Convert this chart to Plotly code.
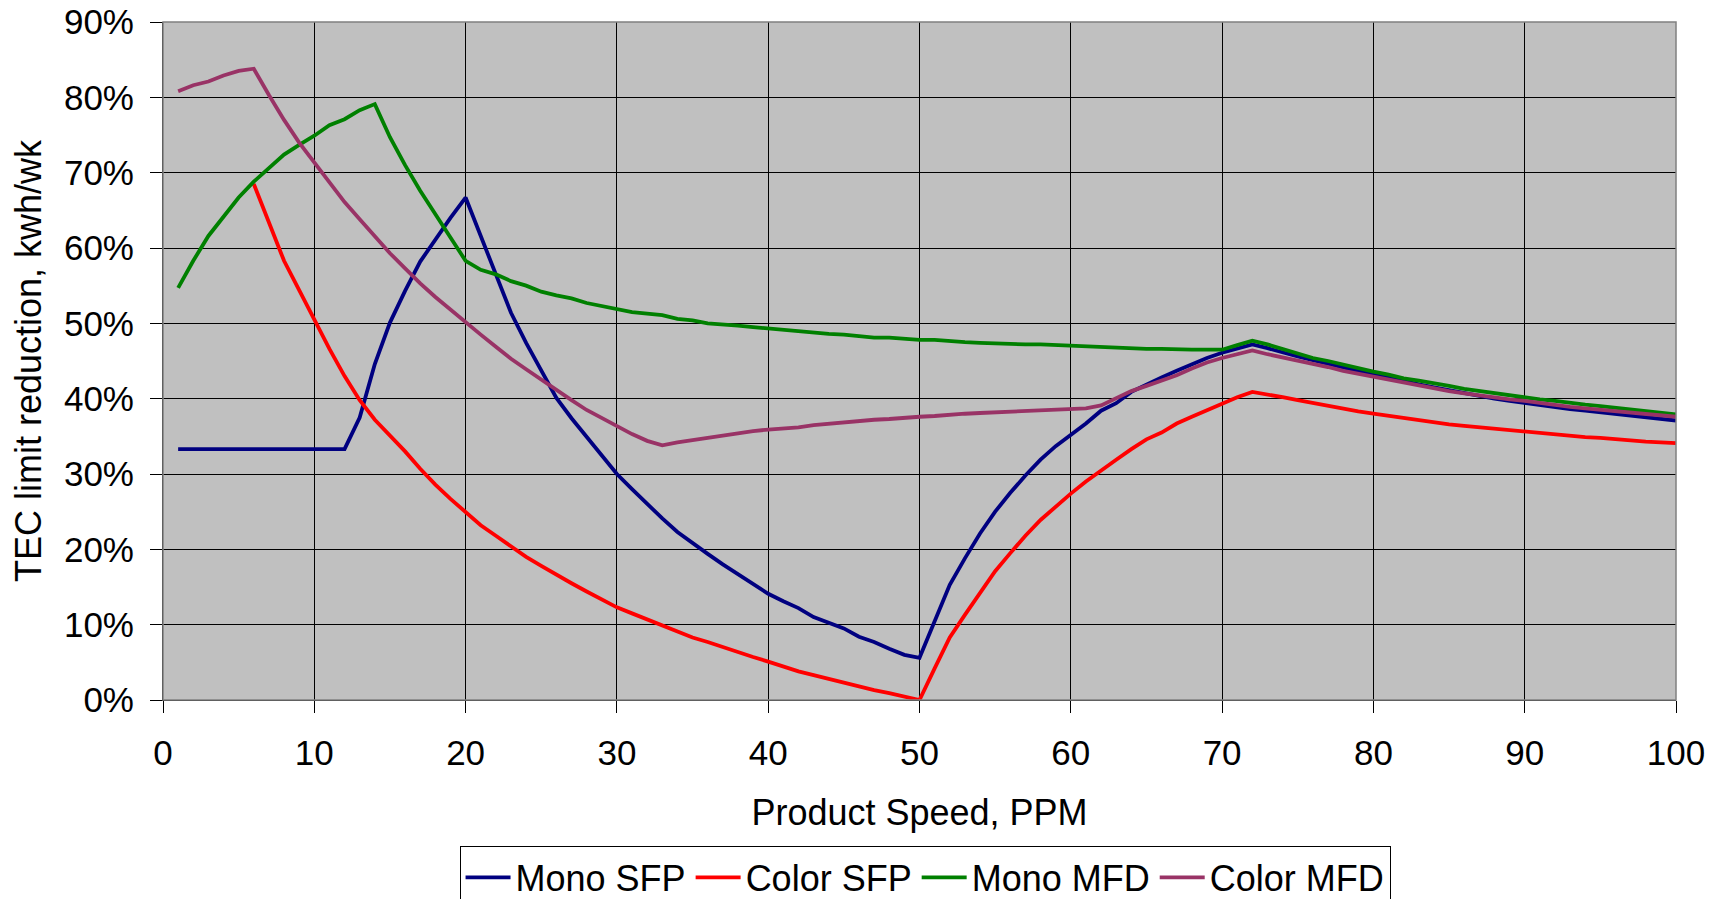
import plotly.graph_objects as go

speed = list(range(1, 101))

mono_sfp = [33.3] * 12 + [
    37.5, 44.6, 50.1, 54.3, 58.2, 61.2, 64.0, 66.7,
    61.6, 56.5, 51.4, 47.4, 43.7, 40.1, 37.4, 34.9, 32.4, 30.0,
    28.0, 26.0, 24.1, 22.3, 20.8, 19.4, 18.0, 16.7, 15.4, 14.1,
    13.1, 12.2, 11.0, 10.2, 9.5, 8.4, 7.7, 6.8, 6.0, 5.6,
    10.6, 15.3, 18.8, 22.1, 25.0, 27.5, 29.8, 31.9, 33.7, 35.2,
    36.7, 38.4, 39.4, 40.9, 41.9, 42.8, 43.7, 44.6, 45.4, 46.1,
    46.7, 47.2, 46.7, 46.1, 45.6, 45.1, 44.6, 44.1, 43.6, 43.2,
    42.8, 42.3, 41.9, 41.5, 41.1, 40.7, 40.4, 40.0, 39.7, 39.4,
    39.1, 38.9, 38.6, 38.4, 38.2, 38.0, 37.8, 37.5, 37.3, 37.1]

color_sfp = [None] * 5 + [
    68.5, 63.4, 58.3, 54.4, 50.5, 46.6, 43.0, 39.8, 37.2, 35.1,
    33.0, 30.7, 28.6, 26.7, 25.0, 23.2, 21.8, 20.4, 19.0, 17.8,
    16.6, 15.5, 14.4, 13.3, 12.3, 11.5, 10.7, 9.9, 9.1, 8.3,
    7.7, 7.0, 6.3, 5.7, 5.1, 4.4, 3.8, 3.3, 2.8, 2.3,
    1.7, 1.3, 0.9, 0.4, 0.0, 4.2, 8.3, 11.3, 14.3, 17.1,
    19.5, 21.8, 23.9, 25.7, 27.4, 29.0, 30.5, 31.9, 33.3, 34.6,
    35.5, 36.7, 37.6, 38.5, 39.4, 40.2, 40.9, 40.6, 40.2, 39.8,
    39.4, 39.0, 38.6, 38.3, 38.0, 37.7, 37.4, 37.1, 36.8, 36.6,
    36.4, 36.2, 36.0, 35.8, 35.6, 35.4, 35.3, 35.1, 34.9, 34.8,
    34.6, 34.4, 34.3, 34.2, 34.1]

mono_mfd = [
    54.7, 58.3, 61.6, 64.1, 66.7, 68.8, 70.6, 72.4, 73.7, 74.9,
    76.3, 77.1, 78.3, 79.1, 74.7, 71.0, 67.6, 64.4, 61.4, 58.3,
    57.1, 56.5, 55.6, 55.0, 54.2, 53.7, 53.3, 52.7, 52.3, 51.9,
    51.5, 51.3, 51.1, 50.6, 50.4, 50.0, 49.9, 49.7, 49.5, 49.3,
    49.1, 48.9, 48.7, 48.6, 48.5, 48.3, 48.1, 48.1, 47.9, 47.8,
    47.8, 47.6, 47.5, 47.4, 47.3, 47.3, 47.2, 47.2, 47.1, 47.0,
    46.9, 46.8, 46.8, 46.7, 46.6, 46.6, 46.5, 46.5, 46.5, 46.5,
    47.1, 47.7, 47.2, 46.6, 46.0, 45.4, 45.0, 44.5, 44.1, 43.6,
    43.2, 42.7, 42.4, 42.1, 41.7, 41.3, 41.0, 40.7, 40.4, 40.1,
    39.9, 39.7, 39.4, 39.2, 39.0, 38.8, 38.6, 38.3, 38.1, 37.9]

color_mfd = [
    80.8, 81.6, 82.1, 82.9, 83.5, 83.8, 80.3, 77.0, 74.0, 71.3,
    68.6, 66.1, 63.8, 61.5, 59.3, 57.3, 55.3, 53.5, 51.8, 50.1,
    48.5, 46.9, 45.3, 43.9, 42.5, 41.1, 39.8, 38.5, 37.4, 36.4,
    35.3, 34.4, 33.8, 34.2, 34.5, 34.9, 35.2, 35.5, 35.7, 35.9,
    36.0, 36.2, 36.5, 36.7, 36.9, 37.1, 37.2, 37.3, 37.5, 37.6,
    37.7, 37.9, 38.0, 38.1, 38.2, 38.3, 38.4, 38.5, 38.5, 38.6,
    38.7, 39.1, 40.1, 41.0, 41.7, 42.4, 43.1, 44.0, 44.8, 45.4,
    45.9, 46.4, 45.9, 45.5, 45.0, 44.6, 44.2, 43.7, 43.3, 42.9,
    42.5, 42.1, 41.7, 41.4, 41.0, 40.7, 40.4, 40.1, 39.9, 39.7,
    39.4, 39.2, 38.9, 38.7, 38.5, 38.3, 38.1, 37.9, 37.7, 37.6]

series = [
    ("Mono SFP", mono_sfp, "#000080"),
    ("Color SFP", color_sfp, "#FF0000"),
    ("Mono MFD", mono_mfd, "#008000"),
    ("Color MFD", color_mfd, "#993366"),
]

x_ticks = list(range(0, 101, 10))
y_ticks = list(range(0, 91, 10))
y_labels = [f"{v}%" for v in y_ticks]

FONT = "Liberation Sans, Arial, sans-serif"

fig = go.Figure()
for name, vals, col in series:
    fig.add_trace(go.Scatter(x=speed, y=vals, name=name, mode="lines",
                             line=dict(color=col, width=3.8)))

fig.update_layout(
    width=1707, height=891,
    template="none",
    paper_bgcolor="white",
    plot_bgcolor="#C0C0C0",
    font=dict(family=FONT, size=36, color="black"),
    margin=dict(l=155, r=39, t=14, b=199, autoexpand=False),
    showlegend=True,
    legend=dict(orientation="h", x=0.196, y=-0.216, xanchor="left", yanchor="top",
                bgcolor="white", bordercolor="black", borderwidth=1, itemwidth=45,
                font=dict(size=36, family=FONT)),
    xaxis=dict(range=[0, 100], tickvals=x_ticks, ticks="outside", ticklen=12,
               tickcolor="black", showgrid=True, gridcolor="black", gridwidth=1,
               showline=True, linecolor="black", linewidth=1, zeroline=False,
               automargin=False, ticklabelstandoff=10, tickfont=dict(size=35),
               ticklabeloverflow="allow",
               title=dict(text="Product Speed, PPM", standoff=28, font=dict(size=36))),
    yaxis=dict(range=[0, 90], tickvals=y_ticks, ticktext=y_labels, ticks="outside", ticklen=12,
               tickcolor="black", showgrid=True, gridcolor="black", gridwidth=1,
               showline=True, linecolor="black", linewidth=1, zeroline=False,
               automargin=False, ticklabelstandoff=9, tickfont=dict(size=35),
               ticklabeloverflow="allow",
               title=dict(text="TEC limit reduction, kwh/wk", standoff=12, font=dict(size=36))),
)
fig.add_shape(type="rect", xref="paper", yref="paper", x0=0, y0=0, x1=1, y1=1,
              line=dict(color="#808080", width=1.5), layer="above")

fig.write_html("out.html")
